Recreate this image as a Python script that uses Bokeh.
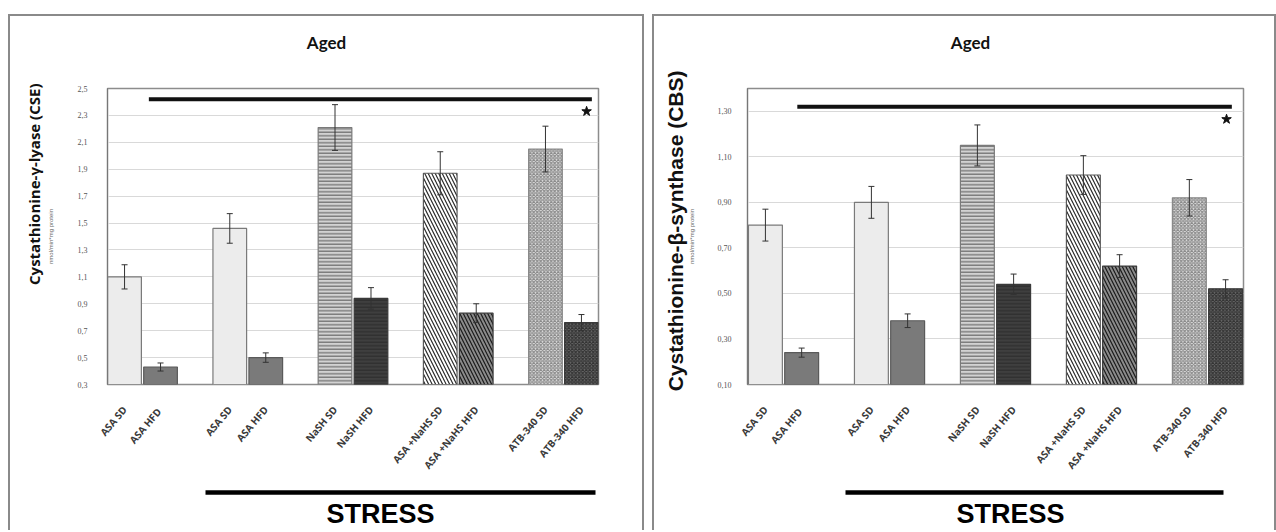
import math
from bokeh.plotting import figure
from bokeh.models import (ColumnDataSource, Whisker, FixedTicker, CustomJSTickFormatter,
                          Range1d, Title, Column, Row)
from bokeh.embed import file_html
from bokeh.resources import INLINE
from bokeh.core.properties import value

# ---------------- data ----------------
labels = ["ASA SD", "ASA  HFD", "ASA SD", "ASA HFD", "NaSH SD", "NaSH HFD",
          "ASA +NaHS SD", "ASA +NaHS HFD", "ATB-340 SD", "ATB-340 HFD"]
groups = [1, 1, 2, 2, 3, 3, 4, 4, 5, 5]
diet = ["SD", "HFD", "SD", "HFD", "SD", "HFD", "SD", "HFD", "SD", "HFD"]

cse = [1.10, 0.43, 1.46, 0.50, 2.21, 0.94, 1.87, 0.83, 2.05, 0.76]
cse_err = [0.09, 0.03, 0.11, 0.035, 0.17, 0.08, 0.16, 0.07, 0.17, 0.06]
cbs = [0.80, 0.24, 0.90, 0.38, 1.15, 0.54, 1.02, 0.62, 0.92, 0.52]
cbs_err = [0.07, 0.02, 0.07, 0.03, 0.09, 0.045, 0.085, 0.05, 0.08, 0.04]

cse_ticks = [0.3, 0.5, 0.7, 0.9, 1.1, 1.3, 1.5, 1.7, 1.9, 2.1, 2.3, 2.5]
cbs_ticks = [0.1, 0.3, 0.5, 0.7, 0.9, 1.1, 1.3]

# significance bars (value axis) and their group spans
cse_sig = {"y": 2.42, "x0": 1.06, "x1": 5.27, "star": 2.33}
cbs_sig = {"y": 1.32, "x0": 1.13, "x1": 5.23, "star": 1.265}

# ---------------- styles ----------------
fills = ["#ececec", "#7a7a7a", "#ececec", "#7a7a7a", "#d2d2d2", "#3f3f3f",
         "#ffffff", "#8a8a8a", "#e2e2e2", "#6a6a6a"]
hatches = [" ", " ", " ", " ", "-", "-", "\\", "\\", "x", "x"]
hatch_colors = ["#000", "#000", "#000", "#000", "#6a6a6a", "#2e2e2e",
                "#2a2a2a", "#1a1a1a", "#8a8a8a", "#333333"]
hatch_scales = [6, 6, 6, 6, 3.5, 3.5, 7, 7, 3.5, 3.5]
line_colors = ["#7a7a7a", "#5a5a5a", "#7a7a7a", "#5a5a5a", "#7a7a7a", "#3a3a3a",
               "#5a5a5a", "#3a3a3a", "#8a8a8a", "#3a3a3a"]

OFF = 0.171
BW = 0.32
xpos = [g + (-OFF if d == "SD" else OFF) for g, d in zip(groups, diet)]

HEAD_H, MAIN_H, FOOT_H = 54, 410, 50
TOP = 16  # canvas y where panel content begins


def make_main(vals, errs, ticks, ymin, ymax, fmt_digits, sig, width, xr, bl, br,
              ytitle, ytitle_font, ytitle_size, ytitle_offset, ytitle_standoff,
              ylab_standoff, tick_standoff):
    p = figure(width=width, height=MAIN_H, output_backend="svg", toolbar_location=None,
               x_range=Range1d(*xr), y_range=Range1d(ymin, ymax),
               min_border_left=bl, min_border_right=br,
               min_border_top=88 - TOP - HEAD_H, min_border_bottom=96)
    p.background_fill_color = "white"
    p.border_fill_color = "white"
    p.outline_line_color = "#8c8c8c"
    p.outline_line_width = 1.5

    src = ColumnDataSource(dict(x=xpos, top=vals, lo=[v - e for v, e in zip(vals, errs)],
                                hi=[v + e for v, e in zip(vals, errs)],
                                fill=fills, hatch=hatches, hc=hatch_colors,
                                hs=hatch_scales, lc=line_colors))
    p.vbar(x="x", top="top", bottom=ymin, width=BW, source=src, fill_color="fill",
           hatch_pattern="hatch", hatch_color="hc", hatch_scale="hs", hatch_weight=1.2,
           line_color="lc", line_width=1.2)
    w = Whisker(base="x", lower="lo", upper="hi", source=src, line_color="#333333",
                line_width=1, level="overlay")
    w.upper_head.size = 6
    w.lower_head.size = 6
    w.upper_head.line_color = "#333333"
    w.lower_head.line_color = "#333333"
    p.add_layout(w)

    p.segment(x0=[sig["x0"]], y0=[sig["y"]], x1=[sig["x1"]], y1=[sig["y"]],
              line_color="#111111", line_width=4)
    p.scatter(x=[sig["x1"] - 0.05], y=[sig["star"]], marker="star", size=10,
              color="#111111")

    p.xgrid.grid_line_color = None
    p.ygrid.grid_line_color = "#d9d9d9"
    p.ygrid.grid_line_width = 1

    p.yaxis.ticker = FixedTicker(ticks=ticks)
    p.yaxis.formatter = CustomJSTickFormatter(
        code="return tick.toFixed(%d).replace('.', ',')" % fmt_digits)
    p.yaxis.major_label_text_font_size = "8px"
    p.yaxis.major_label_text_font = "Liberation Serif"
    p.yaxis.major_label_text_color = "#555555"
    p.yaxis.axis_line_color = "#777777"
    p.yaxis.major_tick_line_color = None
    p.yaxis.minor_tick_line_color = None
    p.yaxis.major_label_standoff = tick_standoff
    p.yaxis.axis_label = "nmol/min*mg protein"
    p.yaxis.axis_label_text_font = "Liberation Sans"
    p.yaxis.axis_label_text_font_style = "normal"
    p.yaxis.axis_label_text_font_size = "6px"
    p.yaxis.axis_label_text_color = "#666666"
    p.yaxis.axis_label_standoff = ylab_standoff

    p.xaxis.ticker = FixedTicker(ticks=xpos)
    p.xaxis.major_label_overrides = {x: l for x, l in zip(xpos, labels)}
    p.xaxis.major_label_orientation = 0.87
    p.xaxis.major_label_text_font = "Open Sans"
    p.xaxis.major_label_text_font_style = "bold"
    p.xaxis.major_label_text_font_size = "10px"
    p.xaxis.major_label_text_color = "#3a3a3a"
    p.xaxis.axis_line_color = None
    p.xaxis.major_tick_line_color = None
    p.xaxis.minor_tick_line_color = None
    p.xaxis.major_label_standoff = 17

    p.add_layout(Title(text=ytitle, text_font=ytitle_font, text_font_style="bold",
                       text_font_size=ytitle_size, text_color="#111111",
                       align="right", offset=ytitle_offset, standoff=ytitle_standoff), "left")
    return p


def make_strip(width, height, bl, br, x0, y0):
    # helper figure whose data coordinates equal page pixels
    f = figure(width=width, height=height, output_backend="svg", toolbar_location=None,
               x_range=Range1d(x0 + bl, x0 + width - br), y_range=Range1d(y0 + height, y0),
               min_border_left=bl, min_border_right=br, min_border_top=0,
               min_border_bottom=0, x_axis_type=None, y_axis_type=None)
    f.outline_line_color = None
    f.background_fill_color = "white"
    f.border_fill_color = "white"
    f.grid.visible = False
    return f


def make_head(width, bl, br, x0, aged_x):
    h = make_strip(width, HEAD_H, bl, br, x0, TOP)
    h.text(x=[aged_x], y=[42], text=["Aged"], text_font=value("Lato"),
           text_font_style="bold", text_font_size="17px", text_align="center",
           text_baseline="middle", text_color="#111111")
    return h


def make_foot(width, bl, br, x0, line_x, stress_x):
    f = make_strip(width, FOOT_H, bl, br, x0, TOP + HEAD_H + MAIN_H)
    f.segment(x0=[line_x[0]], y0=[492], x1=[line_x[1]], y1=[492],
              line_color="black", line_width=4.5)
    f.text(x=[stress_x], y=[513], text=["STRESS"], text_font=value("Liberation Sans"),
           text_font_style="bold", text_font_size="27px", text_align="center",
           text_baseline="middle", text_color="black")
    return f


h1 = make_head(632, 97, 44, 10, 326)
p1 = make_main(cse, cse_err, cse_ticks, 0.3, 2.5, 1, cse_sig, 632, (0.667, 5.333), 97, 44,
               "Cystathionine-γ-lyase (CSE)", "Open Sans", "15px", -5, 1, 21, 14)
f1 = make_foot(632, 97, 44, 10, (205, 595), 380)

h2 = make_head(620, 93, 31, 654, 970)
p2 = make_main(cbs, cbs_err, cbs_ticks, 0.1, 1.4, 2, cbs_sig, 620, (0.66, 5.34), 93, 31,
               "Cystathionine-β-synthase (CBS)", "Liberation Sans", "21px", -18, -2, 20, 10)
f2 = make_foot(620, 93, 31, 654, (845, 1223), 1010)

panel_style = {"border": "2px solid #8a8a8a", "border-bottom": "none"}
left = Column(children=[h1, p1, f1], margin=(14, 0, 0, 8), styles=panel_style)
right = Column(children=[h2, p2, f2], margin=(14, 0, 0, 8), styles=panel_style)
layout = Row(children=[left, right])
open("out.html", "w").write(file_html(layout, INLINE))
